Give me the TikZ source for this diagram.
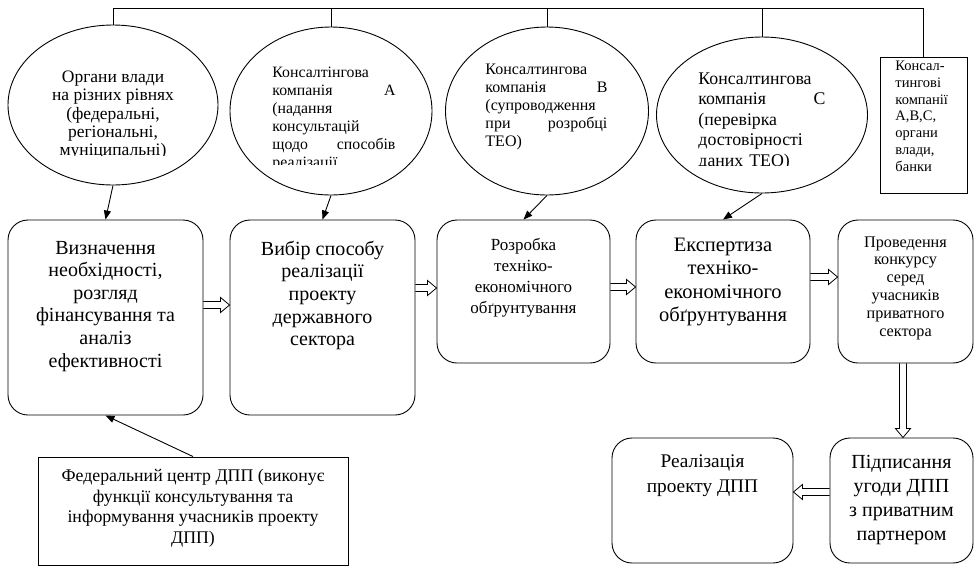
\documentclass[tikz,border=0pt]{standalone}
\usepackage{fontspec}
\setmainfont{Liberation Serif}
\usetikzlibrary{arrows.meta,shapes.geometric,calc}
\newcommand\fsz[2]{\fontsize{#1}{#2}\selectfont}
\begin{document}
\begin{tikzpicture}[x=1pt,y=-1pt,line width=0.9pt,
  oval/.style={draw,ellipse,inner sep=0pt},
  frame/.style={draw,rectangle,inner sep=0pt},
  stage/.style={draw,rectangle,rounded corners=20pt,inner sep=0pt},
  txt/.style={inner sep=0pt,anchor=north},
  link/.style={-{Triangle[length=9pt,width=7pt]}},
  hollow/.style={line width=0.8pt,to path={
    let \p1=($(\tikztotarget)-(\tikztostart)$),
        \n1={veclen(\x1,\y1)}, \n2={atan2(\y1,\x1)} in
    ([shift={(\tikztostart)},rotate=\n2]0pt,3.5pt)
    -- ([shift={(\tikztostart)},rotate=\n2]\n1-9pt,3.5pt)
    -- ([shift={(\tikztostart)},rotate=\n2]\n1-9pt,7.5pt)
    -- (\tikztotarget)
    -- ([shift={(\tikztostart)},rotate=\n2]\n1-9pt,-7.5pt)
    -- ([shift={(\tikztostart)},rotate=\n2]\n1-9pt,-3.5pt)
    -- ([shift={(\tikztostart)},rotate=\n2]0pt,-3.5pt)}}
]
\useasboundingbox (0,0) rectangle (978,566);

% participants
\node[oval,minimum width=210,minimum height=160] (e1) at (113,105) {};
\node[oval,minimum width=202,minimum height=168] (e2) at (331,111) {};
\node[oval,minimum width=203,minimum height=168] (e3) at (547,111) {};
\node[oval,minimum width=211,minimum height=156] (e4) at (762,115) {};
\node[frame,minimum width=87,minimum height=136] (r5) at (923.5,125) {};

\begin{scope}
  \clip (10,40) rectangle (216,155.5);
  \node[txt,align=center,font=\fsz{17.5}{18.3}] (e1t) at (113,70.5)
    {Органи влади\\на різних рівнях\\(федеральні,\\регіональні,\\муніципальні)};
\end{scope}
\begin{scope}
  \clip (240,40) rectangle (420,164.5);
  \node[txt,anchor=north west,text width=123,align=left,font=\fsz{15.8}{18}] (e2t) at (272,66.5)
    {Консалтінгова\\компанія\hfill А\\(надання\\консультацій\\щодо\hfill способів\\реалізації};
\end{scope}
\node[txt,anchor=north west,text width=122,align=left,font=\fsz{16}{18}] (e3t) at (485,63.5)
  {Консалтингова\\компанія\hfill В\\(супроводження\\при\hfill розробці\\ТЕО)};
\begin{scope}
  \clip (670,40) rectangle (860,165);
  \node[txt,anchor=north west,text width=127,align=left,font=\fsz{17.8}{20.5}] (e4t) at (698,72)
    {Консалтингова\\компанія\hfill С\\(перевірка\\достовірності\\даних ТЕО)};
\end{scope}
\node[txt,anchor=north west,align=left,font=\fsz{14.5}{16.8}] (r5t) at (895,60.5)
  {Консал-\\тингові\\компанії\\А,В,С,\\органи\\влади,\\банки};

% common line above the participants
\coordinate (bus) at (0,8);
\draw (e1.north) -- (e1.north |- bus) -- (r5.north |- bus) -- (r5.north);
\draw (e2.north) -- (e2.north |- bus);
\draw (e3.north) -- (e3.north |- bus);
\draw (e4.north) -- (e4.north |- bus);

% project stages
\node[stage,minimum width=195,minimum height=195] (b1) at (105.5,317.5) {};
\node[stage,minimum width=185,minimum height=195] (b2) at (322.5,317.5) {};
\node[stage,minimum width=173,minimum height=143] (b3) at (523.5,291.5) {};
\node[stage,minimum width=174,minimum height=143] (b4) at (723,291.5) {};
\node[stage,minimum width=135,minimum height=143] (b5) at (905.5,291.5) {};
\node[stage,minimum width=181,minimum height=125] (b6) at (702.5,500.5) {};
\node[stage,minimum width=143,minimum height=125] (b7) at (901.5,500.5) {};
\node[frame,minimum width=310,minimum height=108] (fed) at (193,511) {};

\node[txt,align=center,font=\fsz{20}{22.6}] (b1t) at (105.5,240.5)
  {Визначення\\необхідності,\\розгляд\\фінансування та\\аналіз\\ефективності};
\node[txt,align=center,font=\fsz{20}{22.6}] (b2t) at (322.5,240.5)
  {Вибір способу\\реалізації\\проекту\\державного\\сектора};
\node[txt,align=center,font=\fsz{17}{21}] (b3t) at (523.5,237.5)
  {Розробка\\техніко-\\економічного\\обґрунтування};
\node[txt,align=center,font=\fsz{20.5}{23.5}] (b4t) at (723,237.5)
  {Експертиза\\техніко-\\економічного\\обґрунтування};
\node[txt,align=center,font=\fsz{16.2}{17.9}] (b5t) at (905.5,236)
  {Проведення\\конкурсу\\серед\\учасників\\приватного\\сектора};
\node[txt,align=center,font=\fsz{19.3}{25}] (b6t) at (702.5,454.5)
  {Реалізація\\проекту ДПП};
\node[txt,align=center,font=\fsz{20}{24}] (b7t) at (901.5,454.5)
  {Підписання\\угоди ДПП\\з приватним\\партнером};
\node[txt,align=center,font=\fsz{17.8}{20.5}] (fedt) at (193,469)
  {Федеральний центр ДПП (виконує\\функції консультування та\\інформування учасників проекту\\ДПП)};

% who takes part in which stage
\draw[link] (e1.south) -- (b1.north);
\draw[link] (e2.south) -- (b2.north);
\draw[link] (e3.south) -- (b3.north);
\draw[link] (e4.south) -- (b4.north);
\draw[link] (fed.north) -- (b1.south);

% sequence of stages
\coordinate (h12) at (0,305);
\coordinate (h23) at (0,288);
\coordinate (h34) at (0,287);
\coordinate (h45) at (0,277);
\coordinate (v57) at (903,0);
\coordinate (h76) at (0,492);
\draw[hollow] (b1.east |- h12) to (b2.west |- h12);
\draw[hollow] (b2.east |- h23) to (b3.west |- h23);
\draw[hollow] (b3.east |- h34) to (b4.west |- h34);
\draw[hollow] (b4.east |- h45) to (b5.west |- h45);
\draw[hollow] (b5.south -| v57) to (b7.north -| v57);
\draw[hollow] (b7.west |- h76) to (b6.east |- h76);
\end{tikzpicture}
\end{document}
